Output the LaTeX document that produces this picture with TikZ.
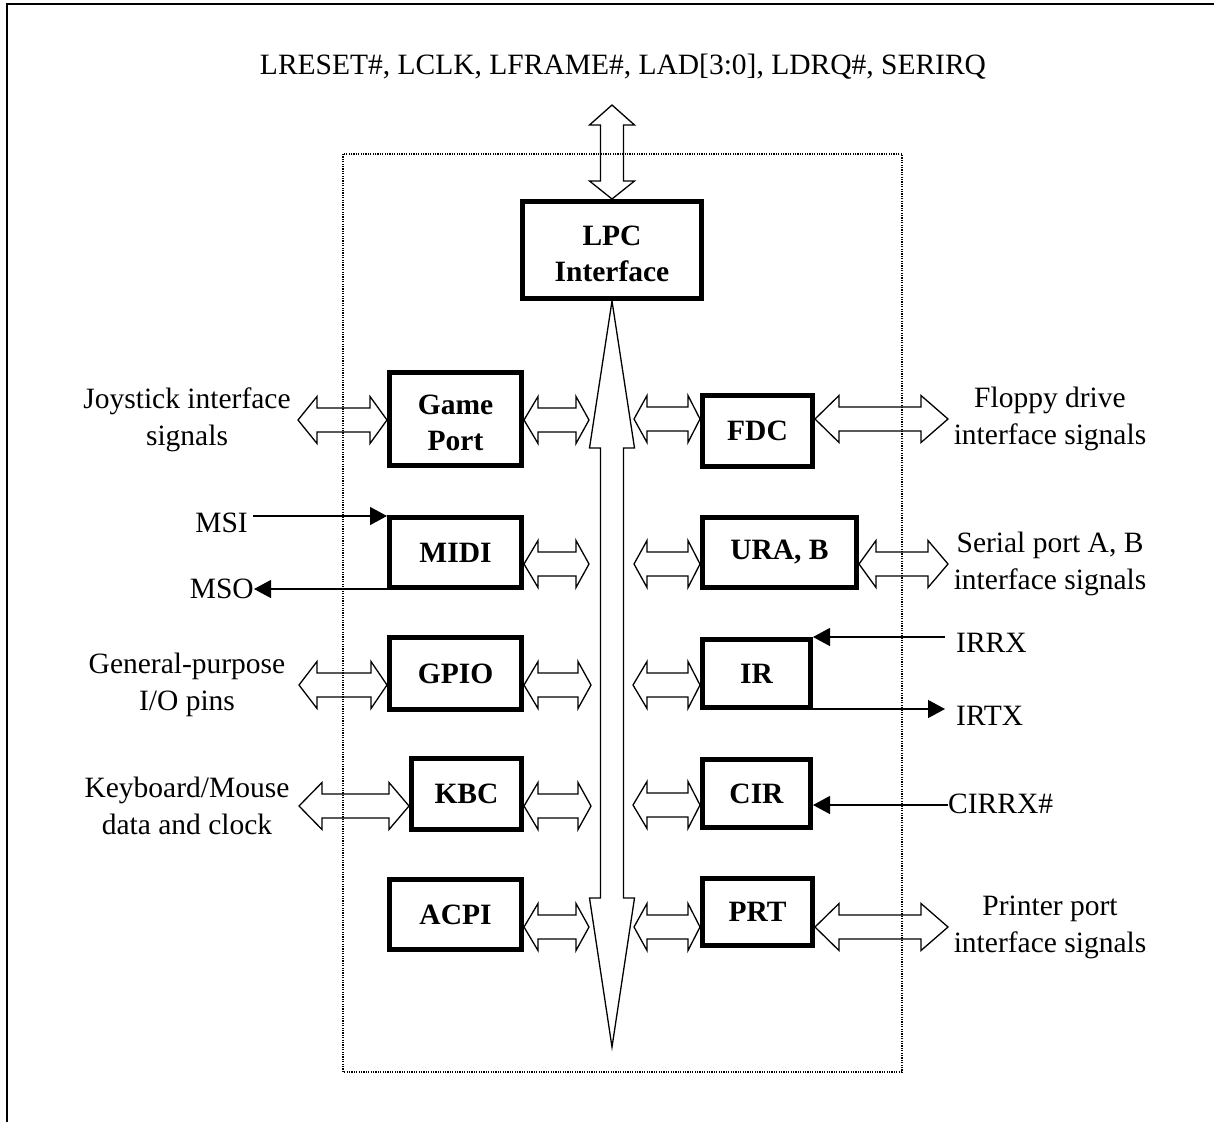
\documentclass[tikz,border=0pt]{standalone}
\usepackage{fontspec}
\setmainfont{Liberation Serif}
\usetikzlibrary{arrows.meta}
\tikzset{
  box/.style={draw,line width=5pt,fill=white,inner sep=0pt,outer sep=0pt,align=center,font=\fontsize{29.5}{36}\selectfont\bfseries},
  lbl/.style={inner sep=0pt,align=center,font=\fontsize{29.5}{37}\selectfont},
  blk/.style={draw,line width=1.3pt,line join=miter},
  sig/.style={line width=1.3pt,-{Triangle[length=17pt,width=18pt]}},
  frame/.style={line width=1.2pt,dash pattern=on 1.2pt off 1.2pt}
}
% two-line box text, slightly lowered
\newcommand\twol[2]{\raisebox{-13pt}[0pt][0pt]{\begin{tabular}{@{}c@{}}#1\\#2\end{tabular}}}
% horizontal double block arrow: left x, right x, y, left head length, right head length
\newcommand\dblh[5]{%
  \draw[blk] (#1,#3) -- (#1+#4,#3-23.5) -- (#1+#4,#3-12) -- (#2-#5,#3-12) -- (#2-#5,#3-23.5)
    -- (#2,#3) -- (#2-#5,#3+23.5) -- (#2-#5,#3+12) -- (#1+#4,#3+12) -- (#1+#4,#3+23.5) -- cycle;}
% box: name, x1, x2, y1, y2 (outer edges), text
\newcommand\bx[6]{%
  \node[box,minimum width={#3-#2-5},minimum height={#5-#4-5}] (#1) at ({(#2+#3)/2},{(#4+#5)/2}) {#6};}
\begin{document}
\begin{tikzpicture}[x=1pt,y=-1pt]
\useasboundingbox (0,0) rectangle (1214,1122);
% outer frame (left and top edges)
\draw[line width=2.2pt] (6.8,1122) -- (6.8,3.8) -- (1214,3.8);
% dotted chip outline
\draw[frame] (343,154) rectangle (902,1072);
% top label
\node[lbl,anchor=base] (top) at (623,74) {LRESET\#, LCLK, LFRAME\#, LAD[3:0], LDRQ\#, SERIRQ};
% top double arrow
\draw[blk] (612,105) -- (634.5,125) -- (623.5,125) -- (623.5,181) -- (634.5,181) -- (612,199)
  -- (589.5,181) -- (600.5,181) -- (600.5,125) -- (589.5,125) -- cycle;
% internal bus
\draw[blk] (612,301) -- (634.5,448) -- (623.5,448) -- (623.5,898) -- (634.5,898) -- (612,1047)
  -- (589.5,898) -- (600.5,898) -- (600.5,448) -- (589.5,448) -- cycle;
% boxes
\bx{lpc}{520}{704}{199}{301}{\twol{LPC}{Interface}}
\bx{gp}{387}{524}{370}{468}{\twol{Game}{Port}}
\bx{midi}{387}{524}{515}{590}{MIDI}
\bx{gpio}{387}{524}{635}{712}{GPIO}
\bx{kbc}{409}{524}{756}{832}{KBC}
\bx{acpi}{387}{524}{877}{952}{ACPI}
\bx{fdc}{700}{815}{393}{469}{FDC}
\bx{ura}{700}{859}{515}{590}{URA, B}
\bx{ir}{700}{813}{637}{710}{IR}
\bx{cir}{700}{813}{757}{830}{CIR}
\bx{prt}{700}{815}{876}{948}{PRT}
% left external arrows
\dblh{298}{387}{420}{19}{17}
\dblh{299}{387}{685}{18}{16}
\dblh{299}{409}{806}{23}{20}
% left internal arrows
\dblh{524}{589}{420}{14}{13}
\dblh{524}{589}{564}{14}{13}
\dblh{524}{591}{685}{14}{13}
\dblh{524}{591}{806}{14}{13}
\dblh{524}{589}{927}{14}{13}
% right internal arrows
\dblh{634}{700}{419}{13}{12}
\dblh{634}{700}{564}{13}{12}
\dblh{633}{700}{685}{14}{12}
\dblh{633}{700}{805}{14}{12}
\dblh{634}{700}{927}{13}{12}
% right external arrows
\dblh{815}{948}{419}{24}{27}
\dblh{859}{948}{564}{17}{20}
\dblh{815}{948}{927}{24}{27}
% left labels
\node[lbl] (joy) at (187,420) {Joystick interface\\signals};
\node[lbl] (gpl) at (187,685) {General-purpose\\I/O pins};
\node[lbl] (kml) at (187,806) {Keyboard/Mouse\\data and clock};
\node[lbl,anchor=base east] (msi) at (248,532) {MSI};
\node[lbl,anchor=base east] (mso) at (254,598) {MSO};
% right labels
\node[lbl] (fdl) at (1050,419) {Floppy drive\\interface signals};
\node[lbl] (spl) at (1050,564) {Serial port A, B\\interface signals};
\node[lbl] (ppl) at (1050,927) {Printer port\\interface signals};
\node[lbl,anchor=base west] (irrx) at (956,652) {IRRX};
\node[lbl,anchor=base west] (irtx) at (956,725) {IRTX};
\node[lbl,anchor=base west] (cirrx) at (948,813) {CIRRX\#};
% single signal arrows
\draw[sig] ([xshift=5pt]msi.east |- 0,516) -- ([xshift=-2.5pt]midi.west |- 0,516);
\draw[sig] ([xshift=-2.5pt]midi.west |- 0,589) -- (mso.east |- 0,589);
\draw[sig] ([xshift=-11pt]irrx.west |- 0,637) -- ([xshift=2.5pt]ir.east |- 0,637);
\draw[sig] ([xshift=2.5pt]ir.east |- 0,709) -- ([xshift=-11pt]irtx.west |- 0,709);
\draw[sig] (cirrx.west |- 0,805) -- ([xshift=2.5pt]cir.east |- 0,805);
\end{tikzpicture}
\end{document}
